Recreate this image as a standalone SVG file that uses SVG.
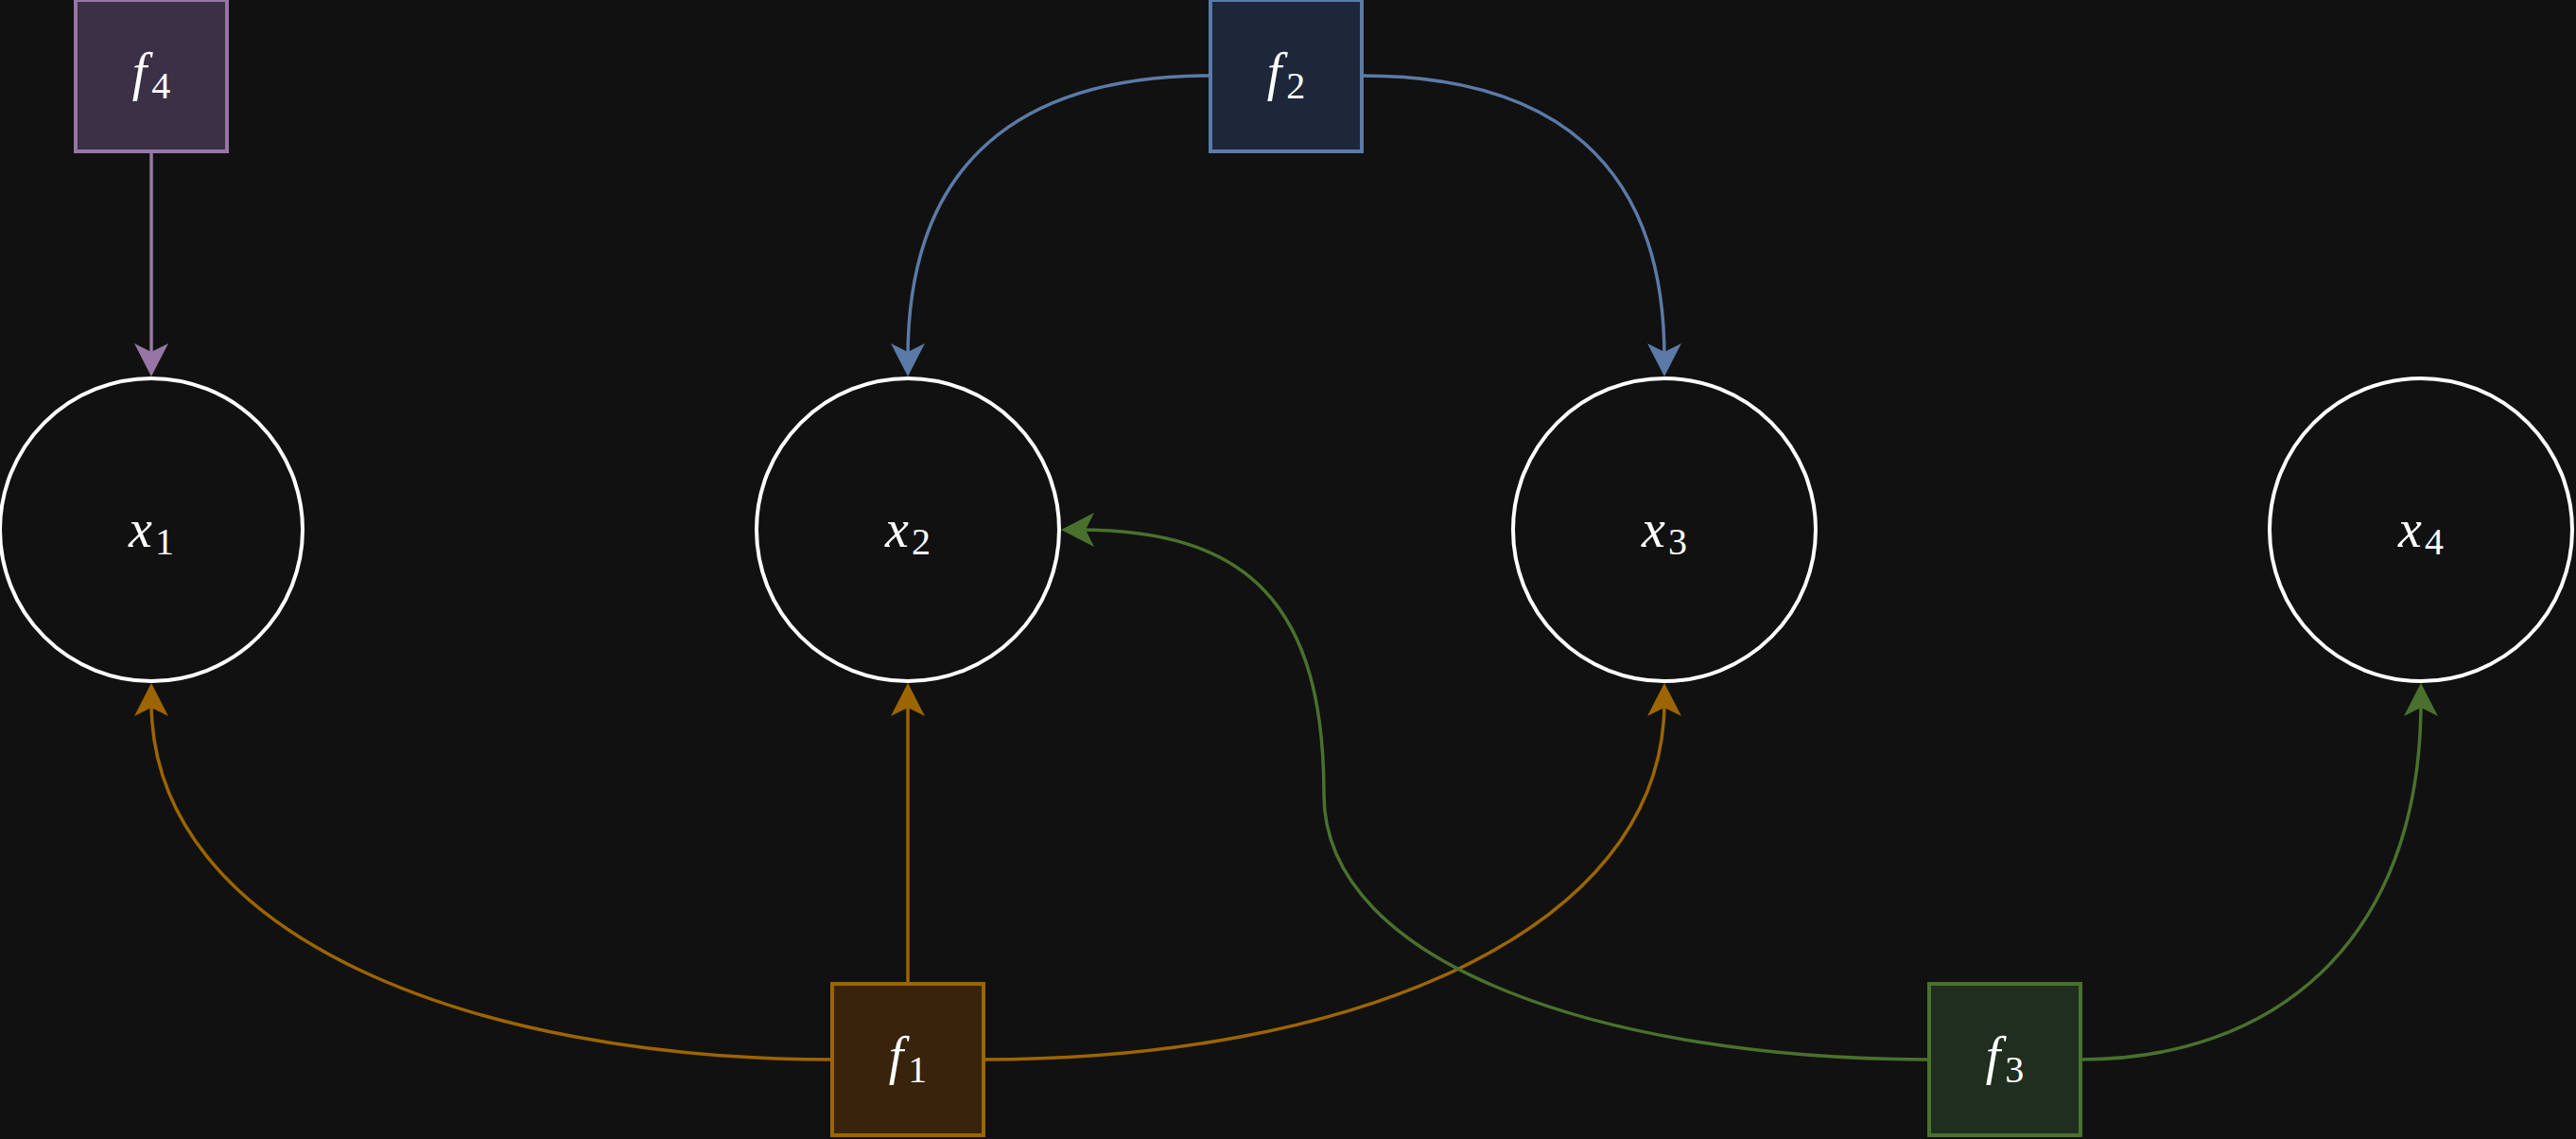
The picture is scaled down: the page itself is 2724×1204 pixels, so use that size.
<svg xmlns="http://www.w3.org/2000/svg" width="2724" height="1204" viewBox="0 0 2724 1204">
  <style>
    .bg { fill: #111111; }
    .var { fill: #111111; stroke: #ffffff; stroke-width: 4; }
    .fac { stroke-width: 4; }
    .edge { fill: none; stroke-width: 3.5; }
    .lbl { font-family: "Liberation Serif", "DejaVu Serif", serif; font-size: 56px; fill: #ffffff; text-anchor: middle; }
    .it { font-style: italic; }
    .sub { font-size: 40px; font-style: normal; }
    .purple { stroke: #9776a6; }
    .blue { stroke: #5b7aa7; }
    .orange { stroke: #9c6500; }
    .green { stroke: #49712d; }
  </style>
  <defs>
    <marker id="arr-purple" markerUnits="userSpaceOnUse" markerWidth="60" markerHeight="60" refX="0" refY="0" orient="auto" overflow="visible">
      <path d="M20,0 L-15,-18 L-6,0 L-15,18 Z" fill="#9776a6"/>
    </marker>
    <marker id="arr-blue" markerUnits="userSpaceOnUse" markerWidth="60" markerHeight="60" refX="0" refY="0" orient="auto" overflow="visible">
      <path d="M20,0 L-15,-18 L-6,0 L-15,18 Z" fill="#5b7aa7"/>
    </marker>
    <marker id="arr-orange" markerUnits="userSpaceOnUse" markerWidth="60" markerHeight="60" refX="0" refY="0" orient="auto" overflow="visible">
      <path d="M20,0 L-15,-18 L-6,0 L-15,18 Z" fill="#9c6500"/>
    </marker>
    <marker id="arr-green" markerUnits="userSpaceOnUse" markerWidth="60" markerHeight="60" refX="0" refY="0" orient="auto" overflow="visible">
      <path d="M20,0 L-15,-18 L-6,0 L-15,18 Z" fill="#49712d"/>
    </marker>
  </defs>
  <rect class="bg" x="0" y="0" width="2724" height="1204"/>

  <g id="connectors">
    <path class="edge purple" d="M160,160 L160,378" marker-end="url(#arr-purple)"/>
    <path class="edge blue" d="M1280,80 C1080,80 960,170 960,378" marker-end="url(#arr-blue)"/>
    <path class="edge blue" d="M1440,80 C1640,80 1760,170 1760,378" marker-end="url(#arr-blue)"/>
    <path class="edge orange" d="M880,1120 C500,1120 160,990 160,742" marker-end="url(#arr-orange)"/>
    <path class="edge orange" d="M960,1040 L960,742" marker-end="url(#arr-orange)"/>
    <path class="edge orange" d="M1040,1120 C1420,1120 1760,990 1760,742" marker-end="url(#arr-orange)"/>
    <path class="edge green" d="M2040,1120 C1700,1120 1400,1020 1400,840 C1400,640 1320,560 1142,560" marker-end="url(#arr-green)"/>
    <path class="edge green" d="M2200,1120 C2400,1120 2560,1000 2560,742" marker-end="url(#arr-green)"/>
  </g>

  <g id="x1">
    <circle class="var" cx="160" cy="560" r="160"/>
    <text class="lbl" x="160" y="578"><tspan class="it">x</tspan><tspan class="sub" dx="3" dy="8">1</tspan></text>
  </g>
  <g id="x2">
    <circle class="var" cx="960" cy="560" r="160"/>
    <text class="lbl" x="960" y="578"><tspan class="it">x</tspan><tspan class="sub" dx="3" dy="8">2</tspan></text>
  </g>
  <g id="x3">
    <circle class="var" cx="1760" cy="560" r="160"/>
    <text class="lbl" x="1760" y="578"><tspan class="it">x</tspan><tspan class="sub" dx="3" dy="8">3</tspan></text>
  </g>
  <g id="x4">
    <circle class="var" cx="2560" cy="560" r="160"/>
    <text class="lbl" x="2560" y="578"><tspan class="it">x</tspan><tspan class="sub" dx="3" dy="8">4</tspan></text>
  </g>

  <g id="f4">
    <rect class="fac purple" x="80" y="0" width="160" height="160" fill="#3b3045"/>
    <text class="lbl" x="160" y="95"><tspan class="it">f</tspan><tspan class="sub" dx="5" dy="9">4</tspan></text>
  </g>
  <g id="f2">
    <rect class="fac blue" x="1280" y="0" width="160" height="160" fill="#1e2739"/>
    <text class="lbl" x="1360" y="95"><tspan class="it">f</tspan><tspan class="sub" dx="5" dy="9">2</tspan></text>
  </g>
  <g id="f1">
    <rect class="fac orange" x="880" y="1040" width="160" height="160" fill="#38230c"/>
    <text class="lbl" x="960" y="1135"><tspan class="it">f</tspan><tspan class="sub" dx="5" dy="9">1</tspan></text>
  </g>
  <g id="f3">
    <rect class="fac green" x="2040" y="1040" width="160" height="160" fill="#1f2e1f"/>
    <text class="lbl" x="2120" y="1135"><tspan class="it">f</tspan><tspan class="sub" dx="5" dy="9">3</tspan></text>
  </g>
</svg>
